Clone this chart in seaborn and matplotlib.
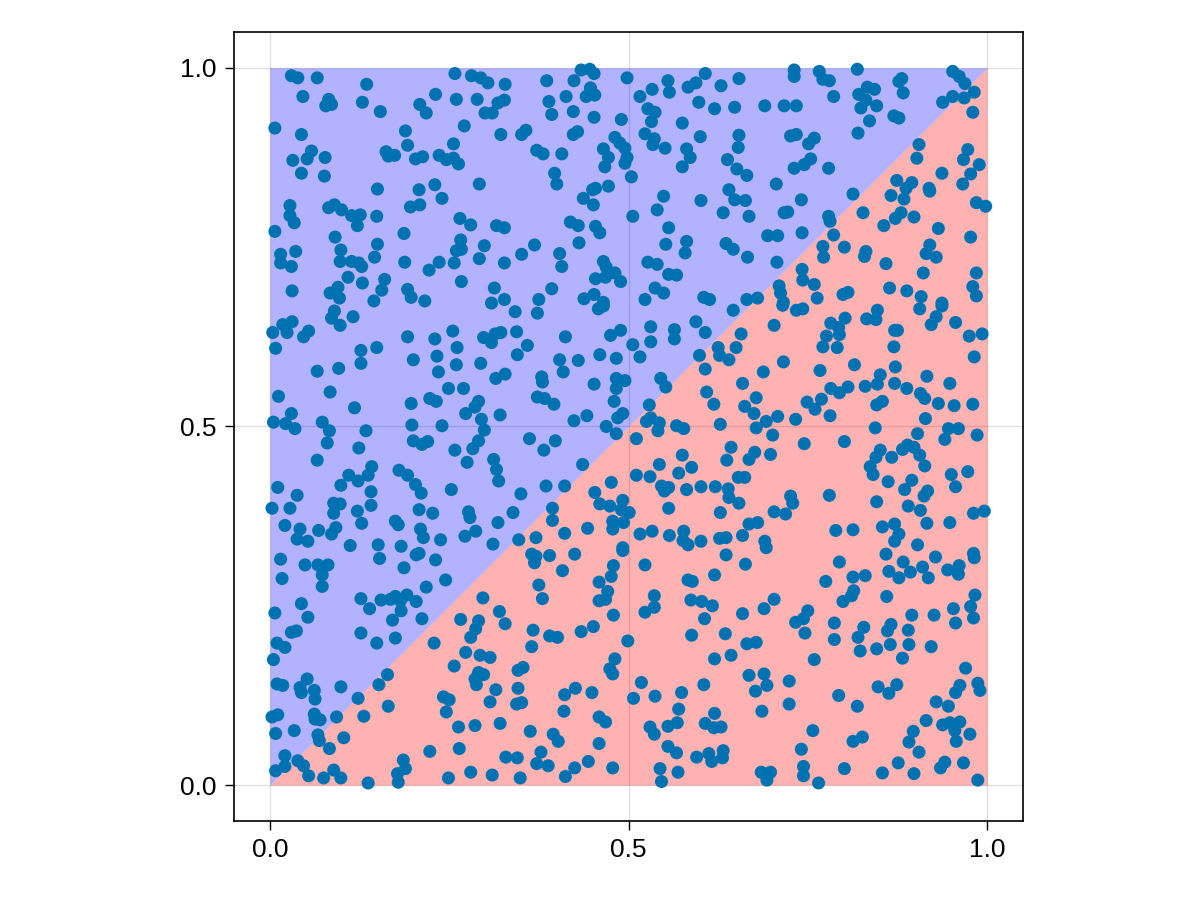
import pandas as pd
import seaborn as sns
import matplotlib
matplotlib.use("Agg")
import matplotlib.pyplot as plt

# points, grouped by region of the square (x, y)
top_left = [(0.030, 0.989), (0.039, 0.986), (0.066, 0.986), (0.135, 0.977), (0.046, 0.960), (0.082, 0.956),
            (0.078, 0.947), (0.086, 0.949), (0.129, 0.952), (0.154, 0.939), (0.007, 0.916), (0.044, 0.907),
            (0.058, 0.884), (0.052, 0.873), (0.032, 0.871), (0.077, 0.875), (0.044, 0.853), (0.076, 0.849),
            (0.162, 0.883), (0.165, 0.877), (0.174, 0.878), (0.189, 0.912), (0.192, 0.892), (0.203, 0.873),
            (0.213, 0.876), (0.209, 0.949), (0.218, 0.937), (0.231, 0.963), (0.258, 0.992), (0.281, 0.989),
            (0.294, 0.986), (0.304, 0.979), (0.260, 0.956), (0.289, 0.956), (0.300, 0.937), (0.310, 0.937),
            (0.318, 0.951), (0.328, 0.977), (0.327, 0.955), (0.271, 0.919), (0.322, 0.907), (0.256, 0.894),
            (0.236, 0.878), (0.246, 0.872), (0.256, 0.874), (0.263, 0.866), (0.292, 0.838), (0.150, 0.831),
            (0.208, 0.830), (0.230, 0.837), (0.240, 0.818), (0.196, 0.806), (0.209, 0.809), (0.028, 0.808),
            (0.028, 0.794), (0.034, 0.784), (0.082, 0.805), (0.090, 0.809), (0.100, 0.802), (0.114, 0.794),
            (0.126, 0.795), (0.122, 0.780), (0.149, 0.793), (0.007, 0.772), (0.265, 0.790), (0.280, 0.781),
            (0.316, 0.780), (0.327, 0.777), (0.187, 0.769), (0.091, 0.764), (0.266, 0.760), (0.260, 0.745),
            (0.267, 0.747), (0.299, 0.752), (0.292, 0.734), (0.327, 0.728), (0.099, 0.746), (0.036, 0.744),
            (0.015, 0.740), (0.015, 0.728), (0.030, 0.723), (0.098, 0.730), (0.114, 0.730), (0.124, 0.728),
            (0.128, 0.723), (0.146, 0.736), (0.150, 0.754), (0.188, 0.729), (0.236, 0.729), (0.257, 0.728),
            (0.222, 0.718), (0.109, 0.708), (0.129, 0.700), (0.160, 0.705), (0.156, 0.690), (0.267, 0.702),
            (0.031, 0.689), (0.084, 0.686), (0.095, 0.694), (0.097, 0.679), (0.145, 0.675), (0.192, 0.691),
            (0.197, 0.680), (0.216, 0.675), (0.313, 0.693), (0.309, 0.672), (0.327, 0.677)]

top_mid = [(0.434, 0.997), (0.446, 0.998), (0.452, 0.992), (0.386, 0.982), (0.424, 0.982), (0.447, 0.972),
           (0.441, 0.960), (0.453, 0.962), (0.413, 0.960), (0.389, 0.953), (0.393, 0.935), (0.423, 0.939),
           (0.452, 0.931), (0.490, 0.928), (0.498, 0.986), (0.516, 0.960), (0.533, 0.970), (0.555, 0.982),
           (0.557, 0.966), (0.583, 0.973), (0.594, 0.979), (0.607, 0.992), (0.629, 0.975), (0.654, 0.985),
           (0.598, 0.952), (0.620, 0.943), (0.648, 0.945), (0.527, 0.943), (0.537, 0.938), (0.532, 0.925),
           (0.575, 0.923), (0.523, 0.908), (0.536, 0.901), (0.534, 0.893), (0.551, 0.888), (0.600, 0.904),
           (0.654, 0.906), (0.653, 0.889), (0.581, 0.887), (0.586, 0.875), (0.575, 0.862), (0.638, 0.872),
           (0.651, 0.859), (0.665, 0.850), (0.351, 0.907), (0.357, 0.913), (0.372, 0.885), (0.381, 0.880),
           (0.407, 0.880), (0.423, 0.907), (0.429, 0.911), (0.465, 0.887), (0.472, 0.875), (0.467, 0.862),
           (0.481, 0.903), (0.488, 0.895), (0.495, 0.888), (0.498, 0.875), (0.495, 0.867), (0.397, 0.853),
           (0.400, 0.838), (0.472, 0.835), (0.504, 0.848), (0.437, 0.818), (0.450, 0.830), (0.454, 0.832),
           (0.451, 0.809), (0.506, 0.793), (0.549, 0.821), (0.540, 0.802), (0.601, 0.815), (0.640, 0.830),
           (0.648, 0.816), (0.663, 0.815), (0.632, 0.798), (0.668, 0.793), (0.419, 0.785), (0.430, 0.780),
           (0.454, 0.779), (0.460, 0.770), (0.431, 0.756), (0.556, 0.777), (0.552, 0.754), (0.581, 0.758),
           (0.579, 0.742), (0.636, 0.755), (0.646, 0.747), (0.666, 0.736), (0.369, 0.753), (0.351, 0.740),
           (0.404, 0.741), (0.407, 0.723), (0.465, 0.730), (0.469, 0.722), (0.481, 0.714), (0.454, 0.706),
           (0.468, 0.708), (0.489, 0.702), (0.527, 0.729), (0.540, 0.726), (0.556, 0.712), (0.567, 0.711),
           (0.537, 0.693), (0.549, 0.686), (0.393, 0.692), (0.375, 0.677), (0.438, 0.678), (0.452, 0.684),
           (0.465, 0.673), (0.523, 0.677), (0.605, 0.680), (0.613, 0.677), (0.665, 0.677)]

top_right = [(0.731, 0.997), (0.731, 0.988), (0.766, 0.995), (0.771, 0.984), (0.780, 0.982), (0.819, 0.998),
             (0.786, 0.960), (0.690, 0.947), (0.717, 0.947), (0.734, 0.947), (0.821, 0.963), (0.833, 0.973),
             (0.843, 0.970), (0.824, 0.944), (0.831, 0.955), (0.846, 0.947), (0.836, 0.926), (0.820, 0.909),
             (0.870, 0.933), (0.877, 0.930), (0.877, 0.981), (0.881, 0.985), (0.883, 0.965), (0.952, 0.995),
             (0.961, 0.988), (0.969, 0.978), (0.982, 0.966), (0.952, 0.960), (0.938, 0.952), (0.968, 0.958),
             (0.980, 0.938), (0.726, 0.905), (0.734, 0.907), (0.751, 0.894), (0.759, 0.902), (0.731, 0.860),
             (0.745, 0.865), (0.754, 0.873), (0.779, 0.860), (0.706, 0.838), (0.741, 0.816), (0.717, 0.798),
             (0.722, 0.799), (0.779, 0.793), (0.781, 0.786), (0.813, 0.824), (0.694, 0.766), (0.708, 0.766),
             (0.742, 0.770), (0.707, 0.729), (0.771, 0.751), (0.772, 0.736), (0.786, 0.767), (0.801, 0.750),
             (0.827, 0.798), (0.831, 0.744), (0.829, 0.737), (0.905, 0.893), (0.902, 0.874), (0.937, 0.853),
             (0.874, 0.843), (0.895, 0.840), (0.887, 0.832), (0.919, 0.832), (0.920, 0.828), (0.866, 0.822),
             (0.884, 0.817), (0.856, 0.780), (0.872, 0.790), (0.880, 0.798), (0.898, 0.792), (0.932, 0.776),
             (0.973, 0.886), (0.967, 0.872), (0.989, 0.865), (0.977, 0.852), (0.966, 0.838), (0.985, 0.812),
             (0.998, 0.807), (0.977, 0.764), (0.920, 0.753), (0.915, 0.741), (0.929, 0.736), (0.859, 0.727),
             (0.911, 0.714), (0.985, 0.714), (0.742, 0.719), (0.743, 0.704), (0.759, 0.698), (0.710, 0.696),
             (0.712, 0.686), (0.680, 0.679), (0.716, 0.673), (0.763, 0.679), (0.799, 0.684), (0.806, 0.687),
             (0.864, 0.693), (0.888, 0.689), (0.908, 0.681), (0.937, 0.672), (0.980, 0.695), (0.985, 0.682)]

mid_left = [(0.090, 0.661), (0.086, 0.651), (0.098, 0.641), (0.116, 0.653), (0.018, 0.642), (0.031, 0.646),
            (0.024, 0.631), (0.004, 0.631), (0.047, 0.625), (0.054, 0.633), (0.008, 0.609), (0.127, 0.606),
            (0.149, 0.610), (0.127, 0.588), (0.066, 0.577), (0.096, 0.581), (0.084, 0.548), (0.012, 0.542),
            (0.118, 0.526), (0.030, 0.518), (0.005, 0.506), (0.022, 0.504), (0.035, 0.497), (0.073, 0.506),
            (0.083, 0.494), (0.080, 0.477), (0.134, 0.494), (0.124, 0.470), (0.066, 0.453), (0.192, 0.625),
            (0.230, 0.622), (0.255, 0.633), (0.261, 0.610), (0.233, 0.598), (0.200, 0.593), (0.235, 0.576),
            (0.260, 0.586), (0.294, 0.588), (0.298, 0.624), (0.309, 0.617), (0.314, 0.629), (0.322, 0.631),
            (0.315, 0.567), (0.328, 0.573), (0.249, 0.553), (0.270, 0.553), (0.197, 0.532), (0.223, 0.539),
            (0.232, 0.535), (0.291, 0.535), (0.286, 0.527), (0.273, 0.518), (0.321, 0.516), (0.198, 0.502),
            (0.240, 0.501), (0.295, 0.510), (0.299, 0.495), (0.200, 0.480), (0.212, 0.475), (0.220, 0.479),
            (0.291, 0.480), (0.283, 0.469), (0.258, 0.467), (0.275, 0.450), (0.312, 0.454), (0.316, 0.440),
            (0.319, 0.424), (0.180, 0.439), (0.192, 0.432), (0.203, 0.419), (0.211, 0.407), (0.253, 0.412),
            (0.142, 0.444), (0.137, 0.432), (0.110, 0.432), (0.123, 0.424), (0.099, 0.418), (0.141, 0.409),
            (0.089, 0.393), (0.098, 0.392), (0.089, 0.379), (0.141, 0.390), (0.122, 0.382), (0.128, 0.365),
            (0.011, 0.415), (0.038, 0.404), (0.003, 0.386), (0.028, 0.386), (0.021, 0.362), (0.042, 0.357),
            (0.038, 0.343), (0.053, 0.340), (0.068, 0.355), (0.086, 0.350), (0.092, 0.359), (0.112, 0.334),
            (0.151, 0.335), (0.175, 0.368), (0.179, 0.363), (0.208, 0.384), (0.227, 0.379), (0.210, 0.357),
            (0.214, 0.345), (0.183, 0.333), (0.238, 0.342), (0.277, 0.381), (0.279, 0.373), (0.272, 0.347),
            (0.287, 0.354), (0.318, 0.366), (0.311, 0.336)]

center = [(0.342, 0.660), (0.373, 0.658), (0.458, 0.664), (0.465, 0.668), (0.344, 0.632), (0.359, 0.613),
          (0.345, 0.600), (0.412, 0.625), (0.475, 0.627), (0.489, 0.634), (0.460, 0.600), (0.483, 0.595),
          (0.404, 0.593), (0.430, 0.592), (0.409, 0.576), (0.379, 0.569), (0.380, 0.562), (0.452, 0.559),
          (0.483, 0.567), (0.495, 0.564), (0.483, 0.553), (0.480, 0.535), (0.373, 0.541), (0.383, 0.539),
          (0.396, 0.531), (0.442, 0.515), (0.424, 0.508), (0.485, 0.512), (0.492, 0.518), (0.469, 0.500),
          (0.483, 0.490), (0.362, 0.483), (0.398, 0.480), (0.382, 0.467), (0.436, 0.447), (0.385, 0.417),
          (0.411, 0.417), (0.350, 0.406), (0.339, 0.380), (0.394, 0.386), (0.394, 0.369), (0.371, 0.345),
          (0.347, 0.342), (0.411, 0.351), (0.443, 0.358), (0.453, 0.408), (0.460, 0.392), (0.474, 0.389),
          (0.492, 0.397), (0.490, 0.384), (0.501, 0.380), (0.476, 0.422), (0.478, 0.368), (0.478, 0.357),
          (0.493, 0.366), (0.492, 0.331), (0.516, 0.350), (0.533, 0.354), (0.557, 0.348), (0.577, 0.354),
          (0.576, 0.341), (0.583, 0.335), (0.601, 0.340), (0.627, 0.344), (0.636, 0.345), (0.659, 0.348),
          (0.506, 0.614), (0.516, 0.597), (0.531, 0.639), (0.531, 0.618), (0.564, 0.635), (0.564, 0.622),
          (0.594, 0.646), (0.607, 0.631), (0.545, 0.567), (0.552, 0.555), (0.529, 0.530), (0.525, 0.507),
          (0.531, 0.512), (0.543, 0.505), (0.541, 0.494), (0.511, 0.483), (0.567, 0.501), (0.577, 0.497),
          (0.599, 0.599), (0.607, 0.580), (0.625, 0.610), (0.627, 0.599), (0.640, 0.593), (0.650, 0.610),
          (0.657, 0.629), (0.646, 0.662), (0.659, 0.560), (0.609, 0.548), (0.619, 0.531), (0.662, 0.528),
          (0.628, 0.503), (0.575, 0.460), (0.543, 0.447), (0.588, 0.443), (0.570, 0.435), (0.511, 0.432),
          (0.530, 0.430), (0.546, 0.417), (0.550, 0.410), (0.556, 0.415), (0.581, 0.412), (0.601, 0.416),
          (0.621, 0.416), (0.639, 0.413), (0.640, 0.401), (0.654, 0.393), (0.653, 0.429), (0.662, 0.429),
          (0.668, 0.454), (0.643, 0.471), (0.637, 0.453), (0.556, 0.386), (0.628, 0.380), (0.668, 0.364)]

mid_right = [(0.715, 0.669), (0.734, 0.662), (0.743, 0.664), (0.703, 0.641), (0.782, 0.644), (0.793, 0.638),
             (0.802, 0.651), (0.794, 0.628), (0.776, 0.626), (0.771, 0.611), (0.791, 0.610), (0.832, 0.650),
             (0.845, 0.649), (0.847, 0.662), (0.871, 0.634), (0.875, 0.634), (0.870, 0.611), (0.906, 0.664),
             (0.937, 0.668), (0.929, 0.653), (0.922, 0.642), (0.956, 0.645), (0.975, 0.626), (0.993, 0.629),
             (0.982, 0.597), (0.716, 0.590), (0.688, 0.576), (0.767, 0.578), (0.815, 0.586), (0.872, 0.583),
             (0.851, 0.572), (0.847, 0.559), (0.871, 0.560), (0.830, 0.556), (0.782, 0.553), (0.794, 0.547),
             (0.806, 0.555), (0.769, 0.538), (0.749, 0.534), (0.760, 0.524), (0.781, 0.515), (0.733, 0.510),
             (0.708, 0.514), (0.692, 0.507), (0.678, 0.540), (0.675, 0.518), (0.678, 0.498), (0.701, 0.488),
             (0.846, 0.530), (0.854, 0.535), (0.888, 0.553), (0.907, 0.546), (0.913, 0.539), (0.916, 0.570),
             (0.948, 0.560), (0.932, 0.532), (0.954, 0.529), (0.980, 0.531), (0.914, 0.511), (0.844, 0.498),
             (0.903, 0.490), (0.941, 0.482), (0.946, 0.497), (0.960, 0.497), (0.986, 0.488), (0.745, 0.476),
             (0.801, 0.479), (0.698, 0.461), (0.676, 0.464), (0.851, 0.467), (0.845, 0.457), (0.837, 0.444),
             (0.841, 0.433), (0.867, 0.457), (0.882, 0.468), (0.889, 0.474), (0.898, 0.471), (0.906, 0.460),
             (0.913, 0.445), (0.862, 0.423), (0.895, 0.425), (0.885, 0.412), (0.912, 0.403), (0.917, 0.410),
             (0.950, 0.433), (0.973, 0.437), (0.956, 0.416), (0.890, 0.389), (0.907, 0.383), (0.846, 0.395),
             (0.780, 0.404), (0.726, 0.403), (0.729, 0.393), (0.703, 0.381), (0.719, 0.378), (0.680, 0.366),
             (0.789, 0.355), (0.813, 0.356), (0.854, 0.360), (0.871, 0.364), (0.877, 0.350), (0.871, 0.340),
             (0.690, 0.340), (0.692, 0.331), (0.916, 0.365), (0.948, 0.366), (0.903, 0.335), (0.981, 0.379),
             (0.996, 0.382)]

bottom_left = [(0.015, 0.315), (0.049, 0.307), (0.067, 0.307), (0.081, 0.307), (0.073, 0.293), (0.073, 0.277),
               (0.017, 0.288), (0.153, 0.316), (0.204, 0.321), (0.208, 0.323), (0.231, 0.314), (0.187, 0.303),
               (0.245, 0.286), (0.218, 0.276), (0.044, 0.253), (0.007, 0.240), (0.053, 0.234), (0.127, 0.260),
               (0.139, 0.246), (0.155, 0.258), (0.168, 0.259), (0.175, 0.263), (0.191, 0.265), (0.182, 0.257),
               (0.204, 0.256), (0.183, 0.243), (0.171, 0.230), (0.212, 0.232), (0.030, 0.213), (0.037, 0.215),
               (0.127, 0.212), (0.149, 0.198), (0.175, 0.205), (0.010, 0.198), (0.021, 0.192), (0.005, 0.175),
               (0.297, 0.261), (0.320, 0.242), (0.328, 0.225), (0.266, 0.231), (0.291, 0.229), (0.287, 0.218),
               (0.280, 0.206), (0.229, 0.198), (0.273, 0.185), (0.293, 0.181), (0.307, 0.178), (0.257, 0.166),
               (0.291, 0.157), (0.298, 0.154), (0.286, 0.148), (0.288, 0.140), (0.315, 0.133), (0.307, 0.116),
               (0.010, 0.141), (0.018, 0.139), (0.052, 0.148), (0.042, 0.136), (0.044, 0.129), (0.062, 0.132),
               (0.063, 0.120), (0.099, 0.137), (0.152, 0.140), (0.164, 0.154), (0.123, 0.121), (0.165, 0.110),
               (0.242, 0.123), (0.250, 0.119), (0.246, 0.102), (0.003, 0.095), (0.011, 0.098), (0.062, 0.099),
               (0.063, 0.092), (0.070, 0.091), (0.093, 0.095), (0.131, 0.096), (0.034, 0.076), (0.008, 0.072),
               (0.067, 0.070), (0.069, 0.062), (0.103, 0.066), (0.083, 0.051), (0.263, 0.081), (0.286, 0.083),
               (0.321, 0.086), (0.223, 0.047), (0.264, 0.051), (0.329, 0.039), (0.021, 0.041), (0.021, 0.026),
               (0.008, 0.020), (0.039, 0.034), (0.047, 0.027), (0.054, 0.013), (0.075, 0.010), (0.089, 0.021),
               (0.099, 0.010), (0.137, 0.003), (0.178, 0.016), (0.186, 0.035), (0.189, 0.023), (0.179, 0.004),
               (0.249, 0.010), (0.280, 0.018), (0.310, 0.014)]

bottom_mid = [(0.365, 0.322), (0.371, 0.319), (0.369, 0.310), (0.390, 0.320), (0.425, 0.322), (0.408, 0.299),
              (0.492, 0.327), (0.479, 0.306), (0.476, 0.291), (0.459, 0.283), (0.471, 0.270), (0.459, 0.257),
              (0.468, 0.259), (0.375, 0.279), (0.380, 0.260), (0.479, 0.237), (0.367, 0.216), (0.390, 0.208),
              (0.401, 0.206), (0.434, 0.214), (0.451, 0.221), (0.365, 0.193), (0.499, 0.201), (0.481, 0.176),
              (0.474, 0.162), (0.478, 0.155), (0.346, 0.160), (0.353, 0.164), (0.346, 0.135), (0.344, 0.113),
              (0.351, 0.115), (0.411, 0.126), (0.426, 0.135), (0.449, 0.129), (0.410, 0.103), (0.459, 0.095),
              (0.468, 0.088), (0.363, 0.075), (0.395, 0.071), (0.402, 0.061), (0.459, 0.058), (0.378, 0.046),
              (0.372, 0.030), (0.388, 0.027), (0.345, 0.038), (0.349, 0.010), (0.412, 0.012), (0.425, 0.024),
              (0.444, 0.033), (0.478, 0.024), (0.523, 0.307), (0.536, 0.264), (0.536, 0.248), (0.523, 0.241),
              (0.583, 0.286), (0.589, 0.284), (0.587, 0.258), (0.602, 0.256), (0.617, 0.250), (0.606, 0.232),
              (0.620, 0.293), (0.636, 0.321), (0.663, 0.308), (0.659, 0.239), (0.588, 0.209), (0.635, 0.211),
              (0.665, 0.197), (0.620, 0.176), (0.643, 0.181), (0.668, 0.153), (0.605, 0.140), (0.518, 0.143),
              (0.507, 0.121), (0.537, 0.124), (0.574, 0.129), (0.570, 0.106), (0.530, 0.081), (0.536, 0.071),
              (0.555, 0.082), (0.568, 0.087), (0.607, 0.086), (0.620, 0.100), (0.619, 0.080), (0.629, 0.081),
              (0.555, 0.054), (0.567, 0.045), (0.595, 0.039), (0.612, 0.044), (0.616, 0.033), (0.632, 0.048),
              (0.631, 0.038), (0.544, 0.023), (0.546, 0.005), (0.569, 0.018)]

bottom_right = [(0.794, 0.311), (0.775, 0.284), (0.813, 0.290), (0.830, 0.292), (0.814, 0.271), (0.811, 0.264),
                (0.799, 0.256), (0.859, 0.322), (0.863, 0.298), (0.877, 0.289), (0.883, 0.311), (0.893, 0.297),
                (0.910, 0.304), (0.918, 0.289), (0.928, 0.318), (0.945, 0.300), (0.961, 0.306), (0.960, 0.294),
                (0.981, 0.323), (0.982, 0.317), (0.860, 0.263), (0.983, 0.265), (0.977, 0.249), (0.981, 0.233),
                (0.953, 0.246), (0.956, 0.226), (0.926, 0.237), (0.895, 0.237), (0.890, 0.216), (0.891, 0.196),
                (0.882, 0.177), (0.922, 0.193), (0.861, 0.215), (0.866, 0.224), (0.865, 0.196), (0.846, 0.190),
                (0.828, 0.220), (0.820, 0.206), (0.823, 0.187), (0.787, 0.226), (0.787, 0.203), (0.759, 0.175),
                (0.703, 0.259), (0.689, 0.246), (0.750, 0.243), (0.744, 0.232), (0.733, 0.227), (0.746, 0.212),
                (0.678, 0.199), (0.689, 0.155), (0.693, 0.139), (0.677, 0.131), (0.724, 0.145), (0.724, 0.113),
                (0.686, 0.103), (0.793, 0.125), (0.819, 0.110), (0.848, 0.137), (0.863, 0.128), (0.874, 0.140),
                (0.929, 0.116), (0.946, 0.110), (0.915, 0.090), (0.938, 0.084), (0.948, 0.087), (0.962, 0.088),
                (0.955, 0.076), (0.957, 0.061), (0.976, 0.071), (0.897, 0.075), (0.891, 0.060), (0.905, 0.046),
                (0.956, 0.129), (0.962, 0.139), (0.970, 0.163), (0.987, 0.142), (0.990, 0.132), (0.757, 0.076),
                (0.813, 0.061), (0.826, 0.067), (0.741, 0.050), (0.744, 0.026), (0.744, 0.013), (0.685, 0.018),
                (0.698, 0.018), (0.693, 0.007), (0.765, 0.003), (0.801, 0.023), (0.854, 0.017), (0.876, 0.031),
                (0.898, 0.016), (0.935, 0.024), (0.941, 0.032), (0.967, 0.031), (0.987, 0.007)]

regions = [top_left, top_mid, top_right, mid_left, center, mid_right, bottom_left, bottom_mid, bottom_right]
pts = [p for r in regions for p in r]
df = pd.DataFrame(pts, columns=["x", "y"])

diag = [0.0, 1.0]
ticks = [0.0, 0.5, 1.0]
tick_labels = ["0.0", "0.5", "1.0"]

sns.set_style("white")
plt.rcParams["font.family"] = ["Liberation Sans", "DejaVu Sans"]

fig = plt.figure(figsize=(12, 9), dpi=100)
ax = fig.add_axes([0.195, 0.0878, 0.6575, 0.8767])

ax.fill_between(diag, diag, 1, color="blue", alpha=0.3, linewidth=0, zorder=1)
ax.fill_between(diag, 0, diag, color="red", alpha=0.3, linewidth=0, zorder=1)

sns.scatterplot(data=df, x="x", y="y", ax=ax, color="#0072B2", s=88,
                linewidth=0, edgecolor="none", zorder=3)

ax.set_xlim(-0.05, 1.05)
ax.set_ylim(-0.05, 1.05)
ax.set_xticks(ticks)
ax.set_yticks(ticks)
ax.set_xticklabels(tick_labels)
ax.set_yticklabels(tick_labels)
ax.grid(True, color="black", alpha=0.12, linewidth=1)
ax.set_axisbelow(True)
ax.tick_params(axis="both", direction="out", length=6.5, width=1, pad=6,
               labelsize=19, bottom=True, left=True, colors="black")
for s in ax.spines.values():
    s.set_color("black")
    s.set_linewidth(1.2)
ax.set_xlabel("")
ax.set_ylabel("")

plt.savefig("out.png", dpi=100)
